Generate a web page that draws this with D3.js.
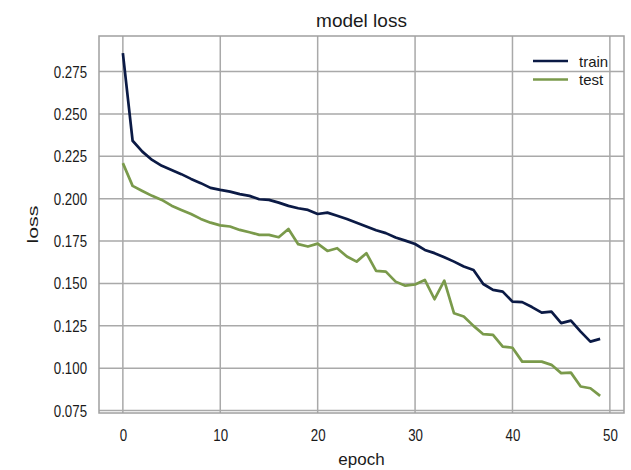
<!DOCTYPE html>
<html>
<head>
<meta charset="utf-8">
<script src="https://cdn.jsdelivr.net/npm/d3@7"></script>
<style>
  body { margin: 0; background: #fff; }
  svg text { font-family: "Liberation Sans", Arial, sans-serif; fill: #1a1a1a; }
</style>
</head>
<body>
<svg id="chart" width="631" height="470"></svg>
<script>
// Training history: loss per epoch
const epochs = d3.range(0, 50);
const trainLoss = [
  0.2859, 0.2342, 0.2278, 0.2229, 0.2194, 0.2170, 0.2145, 0.2117, 0.2092, 0.2064,
  0.2052, 0.2042, 0.2027, 0.2017, 0.1997, 0.1993, 0.1977, 0.1958, 0.1944, 0.1934,
  0.1910, 0.1918, 0.1900, 0.1881, 0.1859, 0.1836, 0.1814, 0.1797, 0.1771, 0.1753,
  0.1733, 0.1698, 0.1679, 0.1655, 0.1629, 0.1600, 0.1580, 0.1497, 0.1462, 0.1452,
  0.1393, 0.1390, 0.1361, 0.1328, 0.1334, 0.1266, 0.1281, 0.1216, 0.1157, 0.1173
];
const testLoss = [
  0.2210, 0.2076, 0.2046, 0.2017, 0.1993, 0.1959, 0.1934, 0.1910, 0.1881, 0.1859,
  0.1843, 0.1836, 0.1816, 0.1802, 0.1787, 0.1787, 0.1773, 0.1822, 0.1732, 0.1718,
  0.1735, 0.1692, 0.1708, 0.1659, 0.1629, 0.1679, 0.1574, 0.1570, 0.1511, 0.1487,
  0.1494, 0.1521, 0.1407, 0.1517, 0.1324, 0.1305, 0.1250, 0.1201, 0.1197, 0.1128,
  0.1121, 0.1039, 0.1039, 0.1039, 0.1020, 0.0971, 0.0974, 0.0892, 0.0882, 0.0837
];
const xTicks = [0, 10, 20, 30, 40, 50];
const yTicks = [0.075, 0.100, 0.125, 0.150, 0.175, 0.200, 0.225, 0.250, 0.275];
const seriesNames = ["train", "test"];
const seriesColors = ["#0b1a45", "#7a9a4b"];

const svg = d3.select("#chart");
const plotLeft = 99, plotRight = 624, plotTop = 36, plotBottom = 413;

// matplotlib-style 5% margins around the data
const allVals = trainLoss.concat(testLoss);
const yMin = d3.min(allVals), yMax = d3.max(allVals);
const yPad = (yMax - yMin) * 0.05;
const xPad = (epochs[epochs.length - 1] - epochs[0]) * 0.05;

const x = d3.scaleLinear()
  .domain([epochs[0] - xPad, epochs[epochs.length - 1] + xPad])
  .range([plotLeft, plotRight]);
const y = d3.scaleLinear()
  .domain([yMin - yPad, yMax + yPad])
  .range([plotBottom, plotTop]);

// narrow tick glyphs: fixed width per character
const digitWidth = 7.4, dotWidth = 3.6;
function narrowWidth(s) {
  let w = 0;
  for (const c of s) w += (c === "." ? dotWidth : digitWidth);
  return w;
}

// grid
const grid = svg.append("g");
grid.selectAll("line.v").data(xTicks).join("line")
  .attr("class", "v")
  .attr("x1", d => x(d)).attr("x2", d => x(d))
  .attr("y1", plotTop).attr("y2", plotBottom)
  .attr("stroke", "#a9a9a9").attr("stroke-width", 1.5);
grid.selectAll("line.h").data(yTicks).join("line")
  .attr("class", "h")
  .attr("y1", d => y(d)).attr("y2", d => y(d))
  .attr("x1", plotLeft).attr("x2", plotRight)
  .attr("stroke", "#a9a9a9").attr("stroke-width", 1.5);

// frame
svg.append("rect")
  .attr("x", plotLeft).attr("y", plotTop)
  .attr("width", plotRight - plotLeft).attr("height", plotBottom - plotTop)
  .attr("fill", "none").attr("stroke", "#a0a0a0").attr("stroke-width", 1.5);

// axes (labels only, no tick marks)
const xAxis = svg.append("g")
  .attr("transform", `translate(0,${plotBottom})`)
  .call(d3.axisBottom(x).tickValues(xTicks).tickSize(0).tickPadding(16).tickFormat(d3.format("d")));
const yAxis = svg.append("g")
  .attr("transform", `translate(${plotLeft},0)`)
  .call(d3.axisLeft(y).tickValues(yTicks).tickSize(0).tickPadding(12).tickFormat(d3.format(".3f")));
[xAxis, yAxis].forEach(a => {
  a.select(".domain").remove();
  a.selectAll("text")
    .attr("fill", "#1a1a1a")
    .style("font-size", "17px")
    .attr("textLength", function () { return narrowWidth(this.textContent); })
    .attr("lengthAdjust", "spacingAndGlyphs");
});

// lines
const series = [trainLoss, testLoss];
const line = d3.line().x((d, i) => x(epochs[i])).y(d => y(d));
series.forEach((vals, k) => {
  svg.append("path")
    .datum(vals)
    .attr("d", line)
    .attr("fill", "none")
    .attr("stroke", seriesColors[k])
    .attr("stroke-width", 2.7)
    .attr("stroke-linejoin", "round");
});

// titles
svg.append("text")
  .attr("x", (plotLeft + plotRight) / 2).attr("y", 27)
  .attr("text-anchor", "middle").style("font-size", "19px")
  .text("model loss");
svg.append("text")
  .attr("x", (plotLeft + plotRight) / 2).attr("y", 465)
  .attr("text-anchor", "middle").style("font-size", "17px")
  .text("epoch");
svg.append("text")
  .attr("transform", `translate(38,${(plotTop + plotBottom) / 2}) rotate(-90)`)
  .attr("text-anchor", "middle").style("font-size", "15px")
  .attr("textLength", 38).attr("lengthAdjust", "spacingAndGlyphs")
  .text("loss");

// legend
const legend = svg.append("g");
seriesNames.forEach((name, k) => {
  const ly = 61 + k * 18.5;
  legend.append("line")
    .attr("x1", 533).attr("x2", 568)
    .attr("y1", ly).attr("y2", ly)
    .attr("stroke", seriesColors[k]).attr("stroke-width", 2.7);
  legend.append("text")
    .attr("x", 579).attr("y", ly + 5.5)
    .style("font-size", "15px")
    .text(name);
});
</script>
</body>
</html>
